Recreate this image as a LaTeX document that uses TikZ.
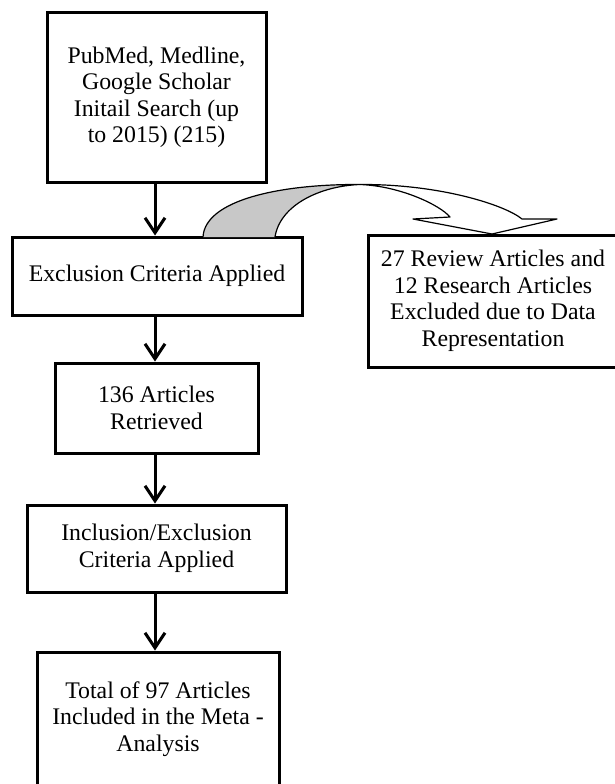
\documentclass[tikz,border=0pt]{standalone}
\usepackage{fontspec}
\setmainfont{Liberation Serif}
\usetikzlibrary{arrows.meta}
\definecolor{bandgray}{RGB}{200,200,200}
\tikzset{
  stepbox/.style={draw, line width=3pt, align=center, inner sep=0pt,
    font=\fontsize{23.8}{26.5}\selectfont},
  flow/.style={line width=3pt, -{Straight Barb[length=15pt,width=20pt,line width=3pt]}}
}

\begin{document}
\begin{tikzpicture}[x=1pt,y=-1pt]
\clip (0,0) rectangle (615,784);
\node[stepbox, minimum width=219pt, minimum height=169pt] (search) at (156.5,97.5)
  {PubMed, Medline,\\ Google Scholar\\ Initail Search (up\\ to 2015) (215)};
\node[stepbox, minimum width=290pt, minimum height=78pt] (excl) at (157,276)
  {Exclusion Criteria Applied};
\node[stepbox, minimum width=250pt, minimum height=132pt] (removed) at (493,301)
  {27 Review Articles and\\ 12 Research Articles\\ Excluded due to Data\\ Representation};
\node[stepbox, minimum width=203pt, minimum height=90pt] (retr) at (156.5,408)
  {136 Articles\\ Retrieved};
\node[stepbox, minimum width=259pt, minimum height=87pt] (incl) at (156.5,548.5)
  {Inclusion/Exclusion\\ Criteria Applied};
\node[stepbox, minimum width=242pt, minimum height=134pt] (total) at (158,719)
  {Total of 97 Articles\\ Included in the Meta -\\ Analysis};

\draw[flow] (search.south -| 155,0) -- (excl.north -| 155,0);
\draw[flow] (excl.south -| 155,0) -- (retr.north -| 155,0);
\draw[flow] (retr.south -| 155,0) -- (incl.north -| 155,0);
\draw[flow] (incl.south -| 155,0) -- (total.north -| 155,0);

% curved arrow to the excluded box
\coordinate (bandL) at (203,237);
\coordinate (bandR) at (275,237);
\coordinate (peak) at (360,184.5);
\coordinate (headL) at (413,219);
\coordinate (shIn) at (450,217);
\coordinate (shOut) at (522,219);
\coordinate (headR) at (557,219);
\coordinate (tip) at (492,234);
\filldraw[fill=bandgray, line width=1.2pt, line join=round]
  (bandL) .. controls (205,200) and (280,184) .. (peak)
  .. controls (320,186) and (280,205) .. (bandR);
\filldraw[fill=white, line width=1.2pt, line join=round]
  (peak) .. controls (440,184) and (505,205) .. (shOut) -- (headR) -- (tip)
  -- (headL) -- (shIn) .. controls (440,205) and (400,186) .. (peak);
\end{tikzpicture}
\end{document}
